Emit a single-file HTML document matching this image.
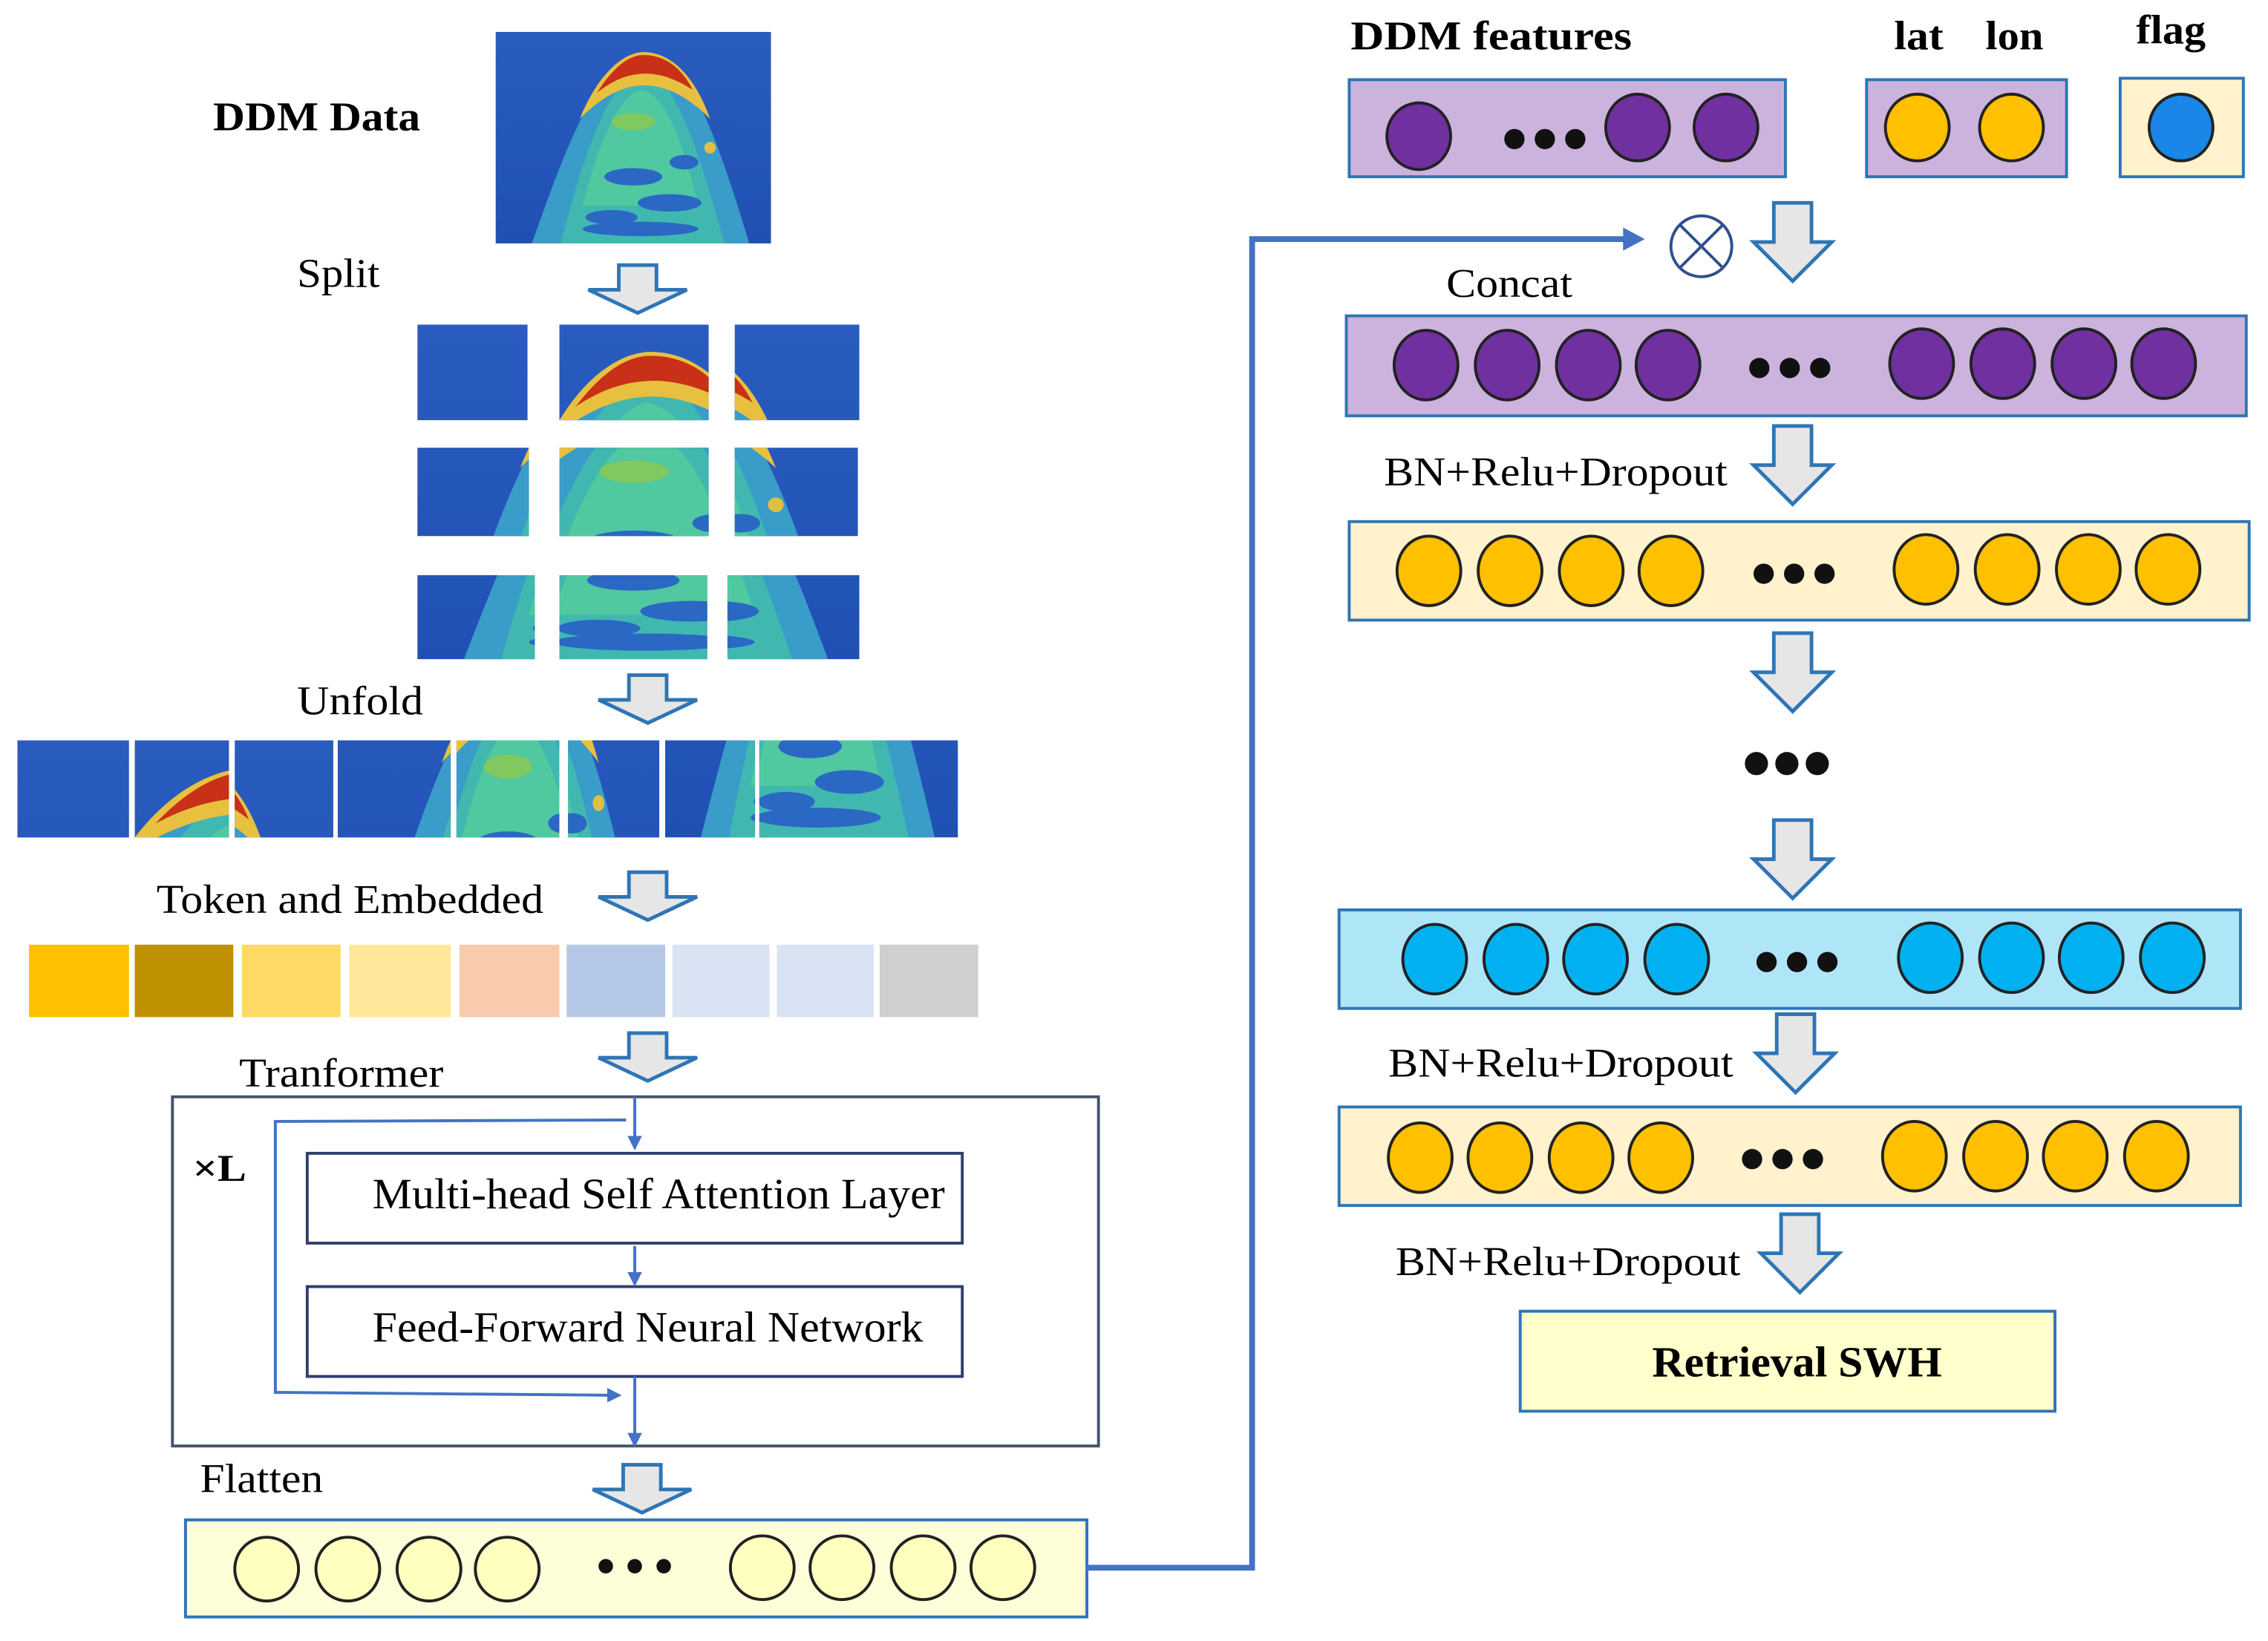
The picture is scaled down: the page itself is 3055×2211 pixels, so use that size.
<!DOCTYPE html>
<html><head><meta charset="utf-8"><style>html,body{margin:0;padding:0;background:#fff}svg{display:block}</style></head>
<body>
<svg width="3055" height="2211" viewBox="0 0 1565 1132.6" preserveAspectRatio="none" xmlns="http://www.w3.org/2000/svg" font-family="Liberation Serif, serif">
<defs>
 <linearGradient id="bg" x1="0" y1="0" x2="0" y2="1"><stop offset="0" stop-color="#2a5cc0"/><stop offset="1" stop-color="#2050b4"/></linearGradient>
 <g id="hm">
  <rect x="0" y="0" width="190" height="146" fill="url(#bg)"/>
  <path d="M25 146 C45 90 68 22 100 14 C132 12 152 70 175 146 Z" fill="#3a9cc8"/>
  <path d="M45 146 C58 95 76 35 100 26 C124 26 142 90 158 146 Z" fill="#40b8b0"/>
  <path d="M60 120 C70 80 84 45 100 40 C118 42 130 80 140 120 Z" fill="#50c8a0"/>
  <path d="M58 60 C72 26 90 14 102 14 C122 14 138 32 148 60 C132 44 116 36 100 37 C84 38 70 48 58 60Z" fill="#e8c040"/>
  <path d="M70 42 C84 20 95 16 102 16 C116 16 128 24 136 40 C122 31 110 28 100 29 C88 30 79 35 70 42Z" fill="#c83018"/>
  <ellipse cx="95" cy="100" rx="20" ry="6" fill="#2a68c4"/>
  <ellipse cx="120" cy="118" rx="22" ry="6" fill="#2a68c4"/>
  <ellipse cx="80" cy="128" rx="18" ry="5" fill="#2a68c4"/>
  <ellipse cx="100" cy="136" rx="40" ry="5" fill="#2a68c4"/>
  <ellipse cx="130" cy="90" rx="10" ry="5" fill="#2a68c4"/>
  <ellipse cx="95" cy="62" rx="15" ry="6" fill="#80c860"/>
  <circle cx="148" cy="80" r="4" fill="#e0c040"/>
 </g>
 <g id="dn"><path d="M-13 0 H13 V27 H27 L0 54 L-27 27 H-13 Z" fill="#e7e6e6" stroke="#2e75b6" stroke-width="2.5"/></g>
 <g id="dnw"><path d="M-13 0 H13 V17 H34 L0 33 L-34 17 H-13 Z" fill="#e7e6e6" stroke="#2e75b6" stroke-width="2.5"/></g>
 <marker id="ah2" markerWidth="10" markerHeight="10" refX="6" refY="5" orient="auto" markerUnits="userSpaceOnUse"><path d="M0 0 L10 5 L0 10Z" fill="#4472c4"/></marker>
</defs>

<!-- Left side -->
<text x="147" y="90" font-size="28" font-weight="bold" textLength="143" lengthAdjust="spacingAndGlyphs">DDM Data</text>
<svg x="342" y="22" width="190" height="146" viewBox="0 0 190 146" preserveAspectRatio="none"><use href="#hm"/></svg>
<text x="205" y="198" font-size="28" textLength="57" lengthAdjust="spacingAndGlyphs">Split</text>
<use href="#dnw" x="440" y="183"/>
<svg x="288" y="224" width="76" height="66" viewBox="0 0 63 49" preserveAspectRatio="none"><use href="#hm"/></svg>
<svg x="386" y="224" width="103" height="66" viewBox="63 0 64 49" preserveAspectRatio="none"><use href="#hm"/></svg>
<svg x="507" y="224" width="86" height="66" viewBox="127 0 63 49" preserveAspectRatio="none"><use href="#hm"/></svg>
<svg x="288" y="309" width="77" height="61" viewBox="0 49 63 48" preserveAspectRatio="none"><use href="#hm"/></svg>
<svg x="386" y="309" width="103" height="61" viewBox="63 49 64 48" preserveAspectRatio="none"><use href="#hm"/></svg>
<svg x="507" y="309" width="85" height="61" viewBox="127 49 63 48" preserveAspectRatio="none"><use href="#hm"/></svg>
<svg x="288" y="397" width="81" height="58" viewBox="0 97 63 49" preserveAspectRatio="none"><use href="#hm"/></svg>
<svg x="386" y="397" width="102" height="58" viewBox="63 97 64 49" preserveAspectRatio="none"><use href="#hm"/></svg>
<svg x="502" y="397" width="91" height="58" viewBox="127 97 63 49" preserveAspectRatio="none"><use href="#hm"/></svg>
<text x="205" y="493" font-size="28" textLength="87" lengthAdjust="spacingAndGlyphs">Unfold</text>
<use href="#dnw" x="447" y="466"/>
<svg x="12" y="511" width="77" height="67" viewBox="0 0 63 49" preserveAspectRatio="none"><use href="#hm"/></svg>
<svg x="93" y="511" width="65" height="67" viewBox="63 0 32 49" preserveAspectRatio="none"><use href="#hm"/></svg>
<svg x="162" y="511" width="68" height="67" viewBox="127 0 63 49" preserveAspectRatio="none"><use href="#hm"/></svg>
<svg x="233" y="511" width="78" height="67" viewBox="0 49 63 48" preserveAspectRatio="none"><use href="#hm"/></svg>
<svg x="315" y="511" width="71" height="67" viewBox="63 49 64 48" preserveAspectRatio="none"><use href="#hm"/></svg>
<svg x="392" y="511" width="63" height="67" viewBox="127 49 63 48" preserveAspectRatio="none"><use href="#hm"/></svg>
<svg x="459" y="511" width="62" height="67" viewBox="0 97 63 49" preserveAspectRatio="none"><use href="#hm"/></svg>
<svg x="524" y="511" width="70" height="67" viewBox="63 97 64 49" preserveAspectRatio="none"><use href="#hm"/></svg>
<svg x="594" y="511" width="67" height="67" viewBox="127 97 63 49" preserveAspectRatio="none"><use href="#hm"/></svg>

<text x="108" y="630" font-size="28" textLength="267" lengthAdjust="spacingAndGlyphs">Token and Embedded</text>
<use href="#dnw" x="447" y="602"/>
<rect x="20" y="652" width="69" height="50" fill="#ffc000"/>
<rect x="93" y="652" width="68" height="50" fill="#bf9000"/>
<rect x="167" y="652" width="68" height="50" fill="#ffd966"/>
<rect x="241" y="652" width="70" height="50" fill="#ffe699"/>
<rect x="317" y="652" width="69" height="50" fill="#f8cbad"/>
<rect x="391" y="652" width="68" height="50" fill="#b4c7e7"/>
<rect x="464" y="652" width="67" height="50" fill="#dae3f3"/>
<rect x="536" y="652" width="67" height="50" fill="#dae3f3"/>
<rect x="607" y="652" width="68" height="50" fill="#d0cece"/>

<text x="165" y="750" font-size="28" textLength="141" lengthAdjust="spacingAndGlyphs">Tranformer</text>
<use href="#dnw" x="447" y="713"/>
<rect x="119" y="757" width="639" height="241" fill="none" stroke="#44546a" stroke-width="2"/>
<text x="133" y="815" font-size="26" font-weight="bold" textLength="37" lengthAdjust="spacingAndGlyphs">×L</text>
<rect x="212" y="796" width="452" height="62" fill="#fff" stroke="#2f3f6f" stroke-width="2"/>
<text x="257" y="834" font-size="30" textLength="395" lengthAdjust="spacingAndGlyphs">Multi-head Self Attention Layer</text>
<rect x="212" y="888" width="452" height="62" fill="#fff" stroke="#2f3f6f" stroke-width="2"/>
<text x="257" y="926" font-size="30" textLength="380" lengthAdjust="spacingAndGlyphs">Feed-Forward Neural Network</text>
<g stroke="#4472c4" stroke-width="2" fill="none">
 <line x1="438" y1="757" x2="438" y2="790" marker-end="url(#ah2)"/>
 <polyline points="432,773 190,774 190,961 425,963" marker-end="url(#ah2)"/>
 <line x1="438" y1="860" x2="438" y2="884" marker-end="url(#ah2)"/>
 <line x1="438" y1="950" x2="438" y2="995" marker-end="url(#ah2)"/>
</g>

<text x="138" y="1030" font-size="28" textLength="85" lengthAdjust="spacingAndGlyphs">Flatten</text>
<use href="#dnw" x="443" y="1011"/>
<rect x="128" y="1049" width="622" height="67" fill="#fefed8" stroke="#2e75b6" stroke-width="2"/>
<g fill="#ffffc0" stroke="#222" stroke-width="2">
 <ellipse cx="184" cy="1083" rx="22" ry="22"/><ellipse cx="240" cy="1083" rx="22" ry="22"/>
 <ellipse cx="296" cy="1083" rx="22" ry="22"/><ellipse cx="350" cy="1083" rx="22" ry="22"/>
 <ellipse cx="526" cy="1082" rx="22" ry="22"/><ellipse cx="581" cy="1082" rx="22" ry="22"/>
 <ellipse cx="637" cy="1082" rx="22" ry="22"/><ellipse cx="692" cy="1082" rx="22" ry="22"/>
</g>
<g fill="#111"><circle cx="418" cy="1081" r="5"/><circle cx="438" cy="1081" r="5"/><circle cx="458" cy="1081" r="5"/></g>

<polyline points="750,1082 864,1082 864,165 1122,165" fill="none" stroke="#4472c4" stroke-width="4"/>
<path d="M1120 157 L1135 165 L1120 173 Z" fill="#4472c4"/>
<circle cx="1174" cy="170" r="21" fill="#fff" stroke="#2f4f8f" stroke-width="2"/>
<line x1="1159" y1="155" x2="1189" y2="185" stroke="#2f4f8f" stroke-width="2"/>
<line x1="1189" y1="155" x2="1159" y2="185" stroke="#2f4f8f" stroke-width="2"/>

<text x="932" y="34" font-size="28" font-weight="bold" textLength="194" lengthAdjust="spacingAndGlyphs">DDM  features</text>
<text x="1307" y="34" font-size="28" font-weight="bold" textLength="34" lengthAdjust="spacingAndGlyphs">lat</text>
<text x="1370" y="34" font-size="28" font-weight="bold" textLength="40" lengthAdjust="spacingAndGlyphs">lon</text>
<text x="1474" y="30" font-size="28" font-weight="bold" textLength="48" lengthAdjust="spacingAndGlyphs">flag</text>
<rect x="931" y="55" width="301" height="67" fill="#ccb3dd" stroke="#2e75b6" stroke-width="2"/>
<g fill="#7030a0" stroke="#222" stroke-width="2">
 <ellipse cx="979" cy="94" rx="22" ry="23"/><ellipse cx="1130" cy="88" rx="22" ry="23"/><ellipse cx="1191" cy="88" rx="22" ry="23"/>
</g>
<g fill="#111"><circle cx="1045" cy="96" r="7"/><circle cx="1066" cy="96" r="7"/><circle cx="1087" cy="96" r="7"/></g>
<rect x="1288" y="55" width="138" height="67" fill="#ccb3dd" stroke="#2e75b6" stroke-width="2"/>
<g fill="#ffc000" stroke="#222" stroke-width="2"><ellipse cx="1323" cy="88" rx="22" ry="23"/><ellipse cx="1388" cy="88" rx="22" ry="23"/></g>
<rect x="1463" y="54" width="85" height="68" fill="#fff2cc" stroke="#2e75b6" stroke-width="2"/>
<ellipse cx="1505" cy="88" rx="22" ry="23" fill="#1a86e8" stroke="#222" stroke-width="2"/>

<use href="#dn" x="1237" y="140"/>
<text x="998" y="205" font-size="28" textLength="87" lengthAdjust="spacingAndGlyphs">Concat</text>
<rect x="929" y="218" width="621" height="69" fill="#ccb3dd" stroke="#2e75b6" stroke-width="2"/>
<g fill="#7030a0" stroke="#222" stroke-width="2">
 <ellipse cx="984" cy="252" rx="22" ry="24"/><ellipse cx="1040" cy="252" rx="22" ry="24"/><ellipse cx="1096" cy="252" rx="22" ry="24"/><ellipse cx="1151" cy="252" rx="22" ry="24"/>
 <ellipse cx="1326" cy="251" rx="22" ry="24"/><ellipse cx="1382" cy="251" rx="22" ry="24"/><ellipse cx="1438" cy="251" rx="22" ry="24"/><ellipse cx="1493" cy="251" rx="22" ry="24"/>
</g>
<g fill="#111"><circle cx="1214" cy="254" r="7"/><circle cx="1235" cy="254" r="7"/><circle cx="1256" cy="254" r="7"/></g>

<text x="955" y="335" font-size="28" textLength="237" lengthAdjust="spacingAndGlyphs">BN+Relu+Dropout</text>
<use href="#dn" x="1237" y="294"/>
<rect x="931" y="360" width="621" height="68" fill="#fff2cc" stroke="#2e75b6" stroke-width="2"/>
<g fill="#ffc000" stroke="#222" stroke-width="2">
 <ellipse cx="986" cy="394" rx="22" ry="24"/><ellipse cx="1042" cy="394" rx="22" ry="24"/><ellipse cx="1098" cy="394" rx="22" ry="24"/><ellipse cx="1153" cy="394" rx="22" ry="24"/>
 <ellipse cx="1329" cy="393" rx="22" ry="24"/><ellipse cx="1385" cy="393" rx="22" ry="24"/><ellipse cx="1441" cy="393" rx="22" ry="24"/><ellipse cx="1496" cy="393" rx="22" ry="24"/>
</g>
<g fill="#111"><circle cx="1217" cy="396" r="7"/><circle cx="1238" cy="396" r="7"/><circle cx="1259" cy="396" r="7"/></g>

<use href="#dn" x="1237" y="437"/>
<g fill="#111"><circle cx="1212" cy="527" r="8"/><circle cx="1233" cy="527" r="8"/><circle cx="1254" cy="527" r="8"/></g>
<use href="#dn" x="1237" y="566"/>

<rect x="924" y="628" width="622" height="68" fill="#aee6f8" stroke="#2e75b6" stroke-width="2"/>
<g fill="#00b0f0" stroke="#222" stroke-width="2">
 <ellipse cx="990" cy="662" rx="22" ry="24"/><ellipse cx="1046" cy="662" rx="22" ry="24"/><ellipse cx="1101" cy="662" rx="22" ry="24"/><ellipse cx="1157" cy="662" rx="22" ry="24"/>
 <ellipse cx="1332" cy="661" rx="22" ry="24"/><ellipse cx="1388" cy="661" rx="22" ry="24"/><ellipse cx="1443" cy="661" rx="22" ry="24"/><ellipse cx="1499" cy="661" rx="22" ry="24"/>
</g>
<g fill="#111"><circle cx="1219" cy="664" r="7"/><circle cx="1240" cy="664" r="7"/><circle cx="1261" cy="664" r="7"/></g>

<text x="958" y="743" font-size="28" textLength="238" lengthAdjust="spacingAndGlyphs">BN+Relu+Dropout</text>
<use href="#dn" x="1239" y="700"/>
<rect x="924" y="764" width="622" height="68" fill="#fff2cc" stroke="#2e75b6" stroke-width="2"/>
<g fill="#ffc000" stroke="#222" stroke-width="2">
 <ellipse cx="980" cy="799" rx="22" ry="24"/><ellipse cx="1035" cy="799" rx="22" ry="24"/><ellipse cx="1091" cy="799" rx="22" ry="24"/><ellipse cx="1146" cy="799" rx="22" ry="24"/>
 <ellipse cx="1321" cy="798" rx="22" ry="24"/><ellipse cx="1377" cy="798" rx="22" ry="24"/><ellipse cx="1432" cy="798" rx="22" ry="24"/><ellipse cx="1488" cy="798" rx="22" ry="24"/>
</g>
<g fill="#111"><circle cx="1209" cy="800" r="7"/><circle cx="1230" cy="800" r="7"/><circle cx="1251" cy="800" r="7"/></g>

<text x="963" y="880" font-size="28" textLength="238" lengthAdjust="spacingAndGlyphs">BN+Relu+Dropout</text>
<use href="#dn" x="1242" y="838"/>
<rect x="1049" y="905" width="369" height="69" fill="#ffffcc" stroke="#2e75b6" stroke-width="2"/>
<text x="1140" y="950" font-size="30" font-weight="bold" textLength="200" lengthAdjust="spacingAndGlyphs">Retrieval SWH</text>
</svg>
</body></html>
